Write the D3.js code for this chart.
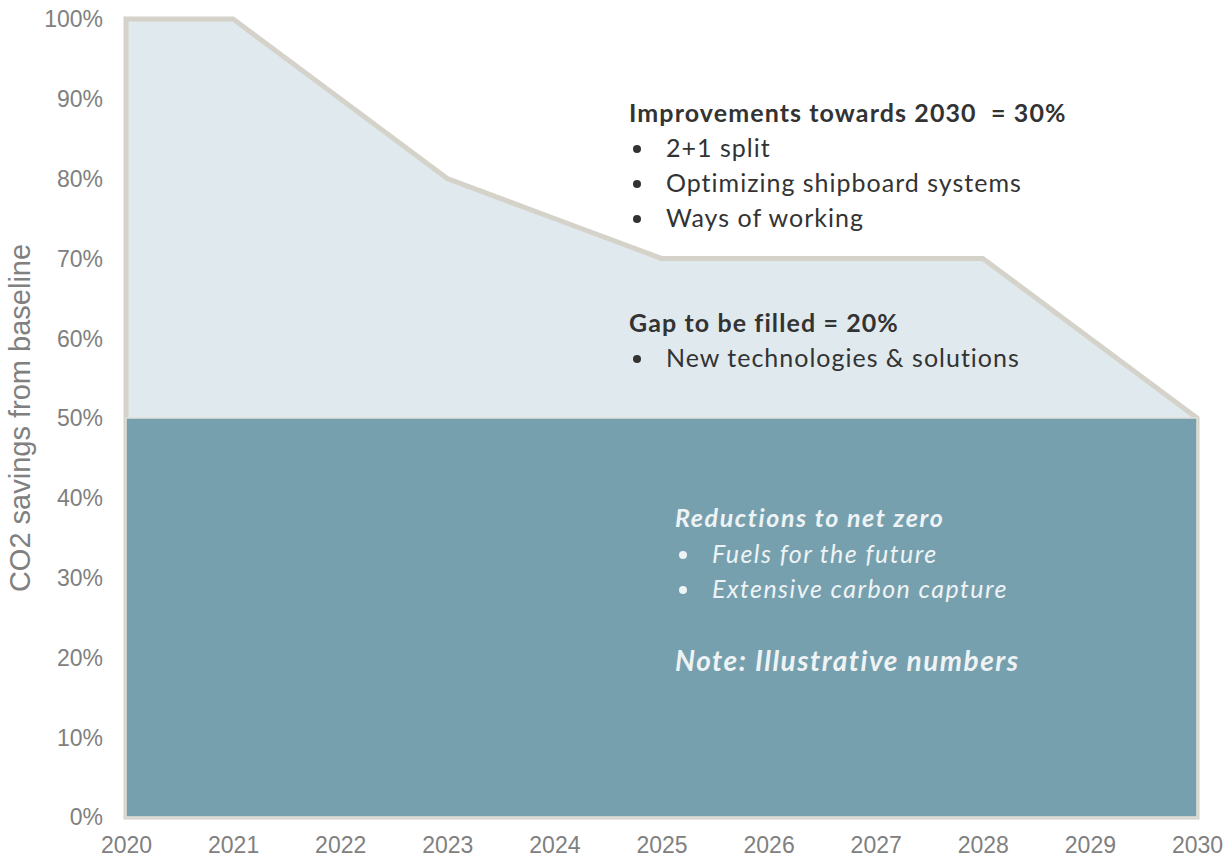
<!DOCTYPE html>
<html>
<head>
<meta charset="utf-8">
<script src="https://cdn.jsdelivr.net/npm/d3@7"></script>
<style>
  html, body { margin: 0; padding: 0; background: #fff; }
  svg { display: block; }
</style>
</head>
<body>
<svg id="chart" width="1229" height="858"></svg>
<script>
// Years on the x axis
const years = [2020, 2021, 2022, 2023, 2024, 2025, 2026, 2027, 2028, 2029, 2030];
// Remaining emissions path (share of baseline, %)
const pathway = [100, 100, 90, 80, 75, 70, 70, 70, 70, 60, 50];
// Reductions to net zero (constant floor, %)
const netZero = [50, 50, 50, 50, 50, 50, 50, 50, 50, 50, 50];
// Y tick values (%)
const yTicks = [0, 10, 20, 30, 40, 50, 60, 70, 80, 90, 100];

const svg = d3.select("#chart");
const margin = { left: 126, right: 32, top: 19, bottom: 41 };
const W = 1229, H = 858;

const x = d3.scaleLinear().domain([2020, 2030]).range([margin.left, W - margin.right]);
const y = d3.scaleLinear().domain([0, 100]).range([H - margin.bottom, margin.top]);

const rows = years.map((yr, i) => ({ year: yr, top: pathway[i], base: netZero[i] }));

// Upper area: improvements + gap
const outerArea = d3.area().x(d => x(d.year)).y0(y(0)).y1(d => y(d.top));
svg.append("path")
  .datum(rows)
  .attr("d", outerArea)
  .attr("fill", "#e0e9ed")
  .attr("stroke", "#d5d2ca")
  .attr("stroke-width", 5)
  .attr("stroke-linejoin", "miter");

// Lower area: reductions to net zero
const innerArea = d3.area().x(d => x(d.year)).y0(y(0)).y1(d => y(d.base));
svg.append("path")
  .datum(rows)
  .attr("d", innerArea)
  .attr("fill", "#77a0ae")
  .attr("stroke", "#e2e0da")
  .attr("stroke-width", 1.5);

const axisFont = "'Liberation Sans', Arial, sans-serif";

// Y axis
const yAxis = svg.append("g")
  .attr("transform", `translate(${margin.left},0)`)
  .call(d3.axisLeft(y).tickValues(yTicks).tickFormat(d => d + "%").tickSize(0).tickPadding(23));
yAxis.select(".domain").remove();
yAxis.selectAll("text")
  .attr("font-family", axisFont)
  .attr("font-size", 23)
  .attr("fill", "#808080")
  .attr("dy", "0.34em");

// X axis
const xAxis = svg.append("g")
  .attr("transform", `translate(0,${H - margin.bottom})`)
  .call(d3.axisBottom(x).tickValues(years).tickFormat(d3.format("d")).tickSize(0).tickPadding(20));
xAxis.select(".domain").remove();
xAxis.selectAll("text")
  .attr("font-family", axisFont)
  .attr("font-size", 23)
  .attr("fill", "#808080")
  .attr("dy", "0.71em");

// Y axis title
svg.append("text")
  .attr("transform", `translate(30,${y(50)}) rotate(-90)`)
  .attr("text-anchor", "middle")
  .attr("font-family", axisFont)
  .attr("font-size", 29)
  .attr("fill", "#808080")
  .text("CO2 savings from baseline");

// Annotation blocks
const font = "Lato, 'Open Sans', sans-serif";
function block(lines, opts) {
  const g = svg.append("g").attr("font-family", font).attr("fill", opts.color);
  lines.forEach(l => {
    if (l.bullet) {
      g.append("circle")
        .attr("cx", opts.x + 8).attr("cy", l.y - 8)
        .attr("r", 4);
      g.append("text")
        .attr("x", opts.x + 37).attr("y", l.y)
        .attr("font-size", opts.size)
        .attr("letter-spacing", opts.spacing)
        .attr("font-style", opts.italic ? "italic" : null)
        .text(l.text);
    } else {
      g.append("text")
        .attr("x", opts.x).attr("y", l.y)
        .attr("font-size", l.size || opts.size)
        .attr("letter-spacing", l.spacing || opts.headSpacing)
        .attr("font-weight", "bold")
        .attr("font-style", opts.italic ? "italic" : null)
        .attr("xml:space", "preserve")
        .style("white-space", "pre")
        .text(l.text);
    }
  });
}

block([
  { text: "Improvements towards 2030  = 30%", y: 122 },
  { text: "2+1 split", y: 157, bullet: true },
  { text: "Optimizing shipboard systems", y: 192, bullet: true },
  { text: "Ways of working", y: 227, bullet: true },
  { text: "Gap to be filled = 20%", y: 332 },
  { text: "New technologies & solutions", y: 367, bullet: true }
], { x: 629, size: 25, spacing: 1.0, headSpacing: 1.1, color: "#333333" });

block([
  { text: "Reductions to net zero", y: 527 },
  { text: "Fuels for the future", y: 563, bullet: true },
  { text: "Extensive carbon capture", y: 598, bullet: true },
  { text: "Note: Illustrative numbers", y: 671, size: 28, spacing: 1.5 }
], { x: 675, size: 25, spacing: 1.45, headSpacing: 1.6, italic: true, color: "#eef3f5" });
</script>
</body>
</html>
